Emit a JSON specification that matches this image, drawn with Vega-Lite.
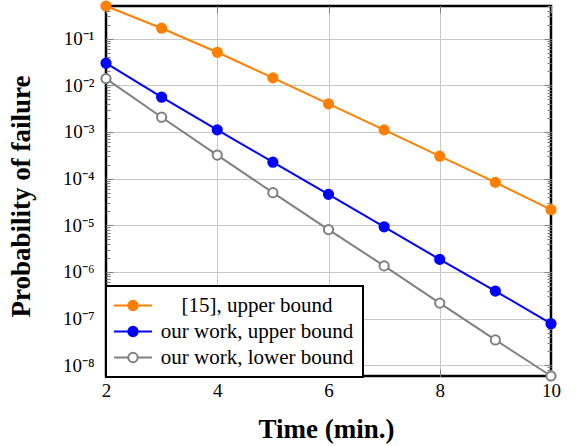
{
  "$schema": "https://vega.github.io/schema/vega-lite/v6.json",
  "width": 445,
  "height": 370,
  "autosize": {"type": "none"},
  "padding": {"left": 106, "top": 6, "right": 25, "bottom": 70},
  "config": {
    "font": "Liberation Serif",
    "view": {"stroke": "black", "strokeWidth": 2.5},
    "legend": {"strokeWidth": 2}
  },
  "data": {
    "values": [
      {"series": "[15], upper bound", "time": 2, "p": 0.5},
      {"series": "[15], upper bound", "time": 3, "p": 0.167},
      {"series": "[15], upper bound", "time": 4, "p": 0.051},
      {"series": "[15], upper bound", "time": 5, "p": 0.0144},
      {"series": "[15], upper bound", "time": 6, "p": 0.004},
      {"series": "[15], upper bound", "time": 7, "p": 0.00111},
      {"series": "[15], upper bound", "time": 8, "p": 0.000303},
      {"series": "[15], upper bound", "time": 9, "p": 0.000083},
      {"series": "[15], upper bound", "time": 10, "p": 0.0000216},
      {"series": "our work, upper bound", "time": 2, "p": 0.0297},
      {"series": "our work, upper bound", "time": 3, "p": 0.00556},
      {"series": "our work, upper bound", "time": 4, "p": 0.00111},
      {"series": "our work, upper bound", "time": 5, "p": 0.000225},
      {"series": "our work, upper bound", "time": 6, "p": 0.000046},
      {"series": "our work, upper bound", "time": 7, "p": 0.0000093},
      {"series": "our work, upper bound", "time": 8, "p": 0.00000186},
      {"series": "our work, upper bound", "time": 9, "p": 3.9e-7},
      {"series": "our work, upper bound", "time": 10, "p": 7.8e-8},
      {"series": "our work, lower bound", "time": 2, "p": 0.0139},
      {"series": "our work, lower bound", "time": 3, "p": 0.00207},
      {"series": "our work, lower bound", "time": 4, "p": 0.00032},
      {"series": "our work, lower bound", "time": 5, "p": 0.00005},
      {"series": "our work, lower bound", "time": 6, "p": 0.0000081},
      {"series": "our work, lower bound", "time": 7, "p": 0.00000135},
      {"series": "our work, lower bound", "time": 8, "p": 2.15e-7},
      {"series": "our work, lower bound", "time": 9, "p": 3.5e-8},
      {"series": "our work, lower bound", "time": 10, "p": 5.9e-9}
    ]
  },
  "layer": [
    {
      "mark": {"type": "line", "strokeWidth": 2},
      "encoding": {
        "x": {
          "field": "time", "type": "quantitative",
          "scale": {"domain": [2, 10], "nice": false, "zero": false},
          "axis": {
            "orient": "bottom", "values": [2, 4, 6, 8, 10],
            "tickSize": -7, "tickColor": "#808080", "tickWidth": 1,
            "grid": true, "gridColor": "#c8c8c8",
            "gridOpacity": {"condition": {"test": "datum.value == 2 || datum.value == 10", "value": 0}, "value": 1},
            "domain": false, "labelFlush": false,
            "labelFont": "Liberation Serif", "labelFontSize": 19, "labelColor": "black", "labelPadding": 12,
            "title": "Time (min.)", "titleFont": "Liberation Serif", "titleFontSize": 27, "titleFontWeight": "bold", "titleColor": "black",
            "titleX": 220, "titleY": 61, "titleBaseline": "alphabetic"
          }
        },
        "y": {
          "field": "p", "type": "quantitative",
          "scale": {"type": "log", "domain": [5.9e-9, 0.5], "nice": false},
          "axis": {
            "orient": "left",
            "values": [6e-9, 7e-9, 8e-9, 9e-9, 1e-8, 2e-8, 3e-8, 4e-8, 5e-8, 6e-8, 7e-8, 8e-8, 9e-8, 1e-7, 2e-7, 3e-7, 4e-7, 5e-7, 6e-7, 7e-7, 8e-7, 9e-7, 1e-6, 2e-6, 3e-6, 4e-6, 5e-6, 6e-6, 7e-6, 8e-6, 9e-6, 1e-5, 2e-5, 3e-5, 4e-5, 5e-5, 6e-5, 7e-5, 8e-5, 9e-5, 1e-4, 2e-4, 3e-4, 4e-4, 5e-4, 6e-4, 7e-4, 8e-4, 9e-4, 1e-3, 2e-3, 3e-3, 4e-3, 5e-3, 6e-3, 7e-3, 8e-3, 9e-3, 1e-2, 2e-2, 3e-2, 4e-2, 5e-2, 6e-2, 7e-2, 8e-2, 9e-2, 0.1, 0.2, 0.3, 0.4, 0.5],
            "labelExpr": "abs(log(datum.value)/LN10 - round(log(datum.value)/LN10)) < 1e-6 ? '10⁻' + ['⁰','¹','²','³','⁴','⁵','⁶','⁷','⁸','⁹'][round(-log(datum.value)/LN10)] : ''",
            "labelOverlap": false, "labelFlush": false,
            "tickSize": {"condition": {"test": "abs(log(datum.value)/LN10 - round(log(datum.value)/LN10)) < 1e-6", "value": -7}, "value": -4},
            "tickColor": "#808080", "tickWidth": 1,
            "grid": true, "gridColor": "#c8c8c8",
            "gridOpacity": {"condition": {"test": "abs(log(datum.value)/LN10 - round(log(datum.value)/LN10)) < 1e-6", "value": 1}, "value": 0},
            "domain": false,
            "labelFont": "Liberation Serif", "labelFontSize": 19, "labelColor": "black", "labelPadding": 19,
            "title": "Probability of failure", "titleFont": "Liberation Serif", "titleFontSize": 27, "titleFontWeight": "bold", "titleColor": "black",
            "titleX": -77, "titleY": 190, "titleAngle": -90, "titleBaseline": "alphabetic"
          }
        },
        "color": {
          "field": "series", "type": "nominal",
          "scale": {"domain": ["[15], upper bound", "our work, upper bound", "our work, lower bound"], "range": ["#ff8000", "#0000ff", "#808080"]},
          "legend": {
            "title": null, "orient": "none", "legendX": 0, "legendY": 280, "direction": "vertical",
            "padding": 9, "strokeColor": "black", "fillColor": "white",
            "labelFont": "Liberation Serif", "labelFontSize": 21, "labelColor": "black", "labelLimit": 400,
            "symbolType": "M-3.45,0L-0.85,0M0.85,0L3.45,0M-0.85,0A0.85,0.85,0,1,0,0.85,0A0.85,0.85,0,1,0,-0.85,0Z",
            "symbolSize": 121, "symbolStrokeWidth": 2, "symbolOffset": 7.5, "labelOffset": 113.5,
            "labelAlign": "center", "rowPadding": 4,
            "encode": {
              "symbols": {
                "update": {
                  "fill": {"signal": "datum.value === 'our work, lower bound' ? 'white' : scale('color', datum.value)"},
                  "stroke": {"signal": "scale('color', datum.value)"},
                  "strokeWidth": {"value": 2},
                  "opacity": {"value": 1}
                }
              }
            }
          }
        }
      }
    },
    {
      "mark": {"type": "point", "shape": "circle", "size": 85, "strokeWidth": 2, "filled": true, "opacity": 1},
      "encoding": {
        "x": {
          "field": "time", "type": "quantitative",
          "axis": {
            "orient": "top", "values": [2, 4, 6, 8, 10],
            "tickSize": -7, "tickColor": "#808080", "tickWidth": 1,
            "grid": false, "domain": false, "labels": false, "title": null
          }
        },
        "y": {
          "field": "p", "type": "quantitative",
          "axis": {
            "orient": "right",
            "values": [6e-9, 7e-9, 8e-9, 9e-9, 1e-8, 2e-8, 3e-8, 4e-8, 5e-8, 6e-8, 7e-8, 8e-8, 9e-8, 1e-7, 2e-7, 3e-7, 4e-7, 5e-7, 6e-7, 7e-7, 8e-7, 9e-7, 1e-6, 2e-6, 3e-6, 4e-6, 5e-6, 6e-6, 7e-6, 8e-6, 9e-6, 1e-5, 2e-5, 3e-5, 4e-5, 5e-5, 6e-5, 7e-5, 8e-5, 9e-5, 1e-4, 2e-4, 3e-4, 4e-4, 5e-4, 6e-4, 7e-4, 8e-4, 9e-4, 1e-3, 2e-3, 3e-3, 4e-3, 5e-3, 6e-3, 7e-3, 8e-3, 9e-3, 1e-2, 2e-2, 3e-2, 4e-2, 5e-2, 6e-2, 7e-2, 8e-2, 9e-2, 0.1, 0.2, 0.3, 0.4, 0.5],
            "tickSize": {"condition": {"test": "abs(log(datum.value)/LN10 - round(log(datum.value)/LN10)) < 1e-6", "value": -7}, "value": -4},
            "tickColor": "#808080", "tickWidth": 1,
            "grid": false, "domain": false, "labels": false, "title": null
          }
        },
        "stroke": {
          "field": "series", "type": "nominal",
          "scale": {"domain": ["[15], upper bound", "our work, upper bound", "our work, lower bound"], "range": ["#ff8000", "#0000ff", "#808080"]},
          "legend": null
        },
        "fill": {
          "field": "series", "type": "nominal",
          "scale": {"domain": ["[15], upper bound", "our work, upper bound", "our work, lower bound"], "range": ["#ff8000", "#0000ff", "#ffffff"]},
          "legend": null
        }
      }
    }
  ],
  "resolve": {"axis": {"x": "independent", "y": "independent"}}
}
